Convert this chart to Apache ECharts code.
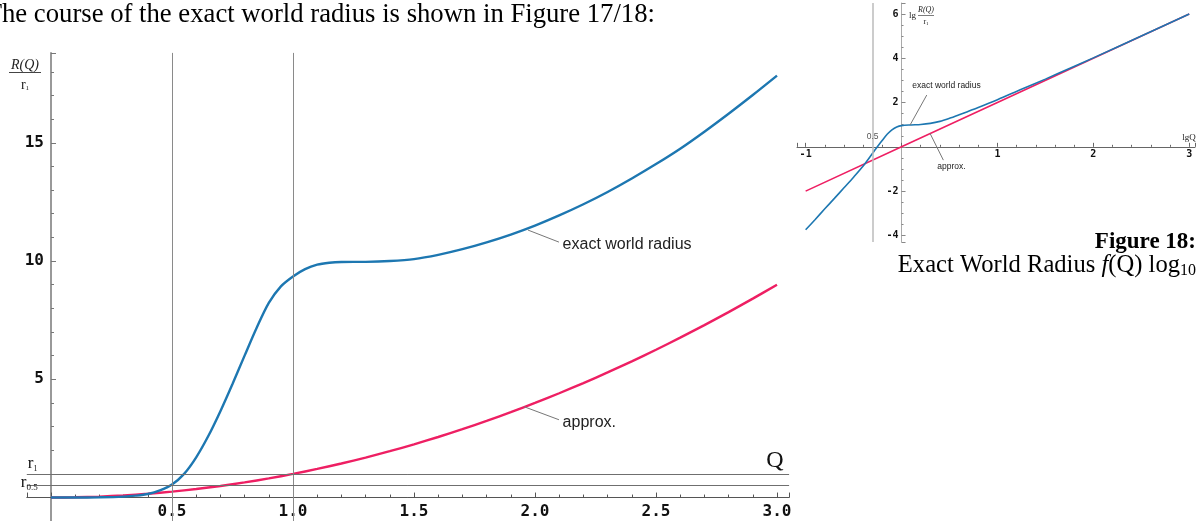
<!DOCTYPE html>
<html><head><meta charset="utf-8">
<script src="https://cdn.jsdelivr.net/npm/echarts@6/dist/echarts.min.js"></script>
<style>html,body{margin:0;padding:0;background:#fff;overflow:hidden}#c{width:1203px;height:521px}</style>
</head><body><div id="c"></div>
<script>
// ---- Figure 17 (linear) ----
const qApprox = [0,0.1,0.2,0.3,0.4,0.5,0.6,0.7,0.8,0.9,1.0,1.1,1.2,1.3,1.4,1.5,1.6,1.7,1.8,1.9,2.0,2.1,2.2,2.3,2.4,2.5,2.6,2.7,2.8,2.9,3.0];
const rApprox = [0,0.01,0.04,0.09,0.16,0.25,0.36,0.49,0.64,0.81,1.0,1.21,1.44,1.69,1.96,2.25,2.56,2.89,3.24,3.61,4.0,4.41,4.84,5.29,5.76,6.25,6.76,7.29,7.84,8.41,9.0];
const qExact = [0,0.1,0.2,0.3,0.35,0.4,0.45,0.5,0.55,0.6,0.65,0.7,0.75,0.8,0.85,0.9,0.95,1.0,1.05,1.1,1.15,1.2,1.3,1.4,1.5,1.6,1.7,1.8,1.9,2.0,2.1,2.2,2.3,2.4,2.5,2.6,2.7,2.8,2.9,3.0];
const rExact = [0,0.0,0.01,0.04,0.08,0.15,0.3,0.55,1.0,1.7,2.6,3.65,4.8,6.0,7.18,8.23,8.93,9.35,9.66,9.85,9.93,9.96,9.965,10.0,10.08,10.26,10.5,10.79,11.12,11.5,11.93,12.4,12.92,13.49,14.1,14.75,15.47,16.23,17.02,17.84];
const refQ = [0.5, 1.0];
const refR = [1, 0.5];
const refRNames = ['1', '0.5'];
const xTickLabels = ['0.5','1.0','1.5','2.0','2.5','3.0'];
const yTickLabels = ['5','10','15'];
// ---- Figure 18 (log10) ----
const lgQExact = [-1.0,-0.9,-0.8,-0.7,-0.6,-0.5,-0.4,-0.3,-0.25,-0.2,-0.15,-0.1,-0.05,0.0,0.1,0.2,0.3,0.4,0.5,0.6,0.8,1.0,1.25,1.5,1.75,2.0,2.5,3.0];
const lgRExact = [-3.75,-3.28,-2.8,-2.33,-1.85,-1.37,-0.87,-0.28,0.02,0.3,0.57,0.77,0.9,0.96,0.99,1.01,1.06,1.15,1.29,1.45,1.78,2.13,2.6,3.06,3.54,4.02,5.01,6.0];
const lgQApprox = [-1,0,1,2,3];
const lgRApprox = [-2,0,2,4,6];
const lgHalf = -0.301;
const logXTickLabels = ['-1','1','2','3'];
const logYTickLabels = ['-4','-2','2','4','6'];

const BLUE = '#1d77b1', PINK = '#ee1f63';
const MONO = 'DejaVu Sans Mono', SERIF = 'Liberation Serif', SANS = 'Liberation Sans';
const zip = (a, b) => a.map((v, i) => [v, b[i]]);
const fmt = (labels, digits) => v => {
  const s = digits ? v.toFixed(digits) : String(Math.round(v * 1000) / 1000);
  return labels.includes(s) ? s : '';
};

const chart = echarts.init(document.getElementById('c'), null, {renderer: 'canvas'});
const leader = {symbol: ['none','none'], silent: true, lineStyle: {color: '#777', width: 1, type: 'solid'}, label: {show: false}};
const textPt = (size, color) => ({symbol: 'circle', symbolSize: 1, silent: true, itemStyle: {color: 'rgba(0,0,0,0)'},
  label: {show: true, position: 'right', distance: 0, fontFamily: SANS, fontSize: size, color: color}});

// grid geometry (pixels) and value ranges
const G0 = {left: 26.8, top: 52.9, width: 762.3, height: 468.3}, X0 = [-0.1, 3.05], Y0 = [-1, 18.8];
const G1 = {left: 797, top: 3, width: 398, height: 239}, X1 = [-1.09, 3.06], Y1 = [-4.3, 6.5];
const offX = (g, y) => -(0 - y[0]) / (y[1] - y[0]) * g.height;   // move x axis up to value 0
const offY = (g, x) => -(0 - x[0]) / (x[1] - x[0]) * g.width;    // move y axis right to value 0

chart.setOption({
  animation: false,
  backgroundColor: '#fff',
  grid: [
    Object.assign({containLabel: false, outerBoundsMode: 'none'}, G0),
    Object.assign({containLabel: false, outerBoundsMode: 'none'}, G1)
  ],
  xAxis: [
    {type: 'value', gridIndex: 0, min: X0[0], max: X0[1], position: 'bottom', offset: offX(G0, Y0),
     axisLine: {onZero: false, lineStyle: {color: '#555', width: 1}},
     axisTick: {inside: true, length: 5, lineStyle: {color: '#555'}},
     minorTick: {show: true, splitNumber: 5, length: 3, lineStyle: {color: '#555'}},
     splitLine: {show: false},
     axisLabel: {formatter: fmt(xTickLabels, 1), fontFamily: MONO, fontWeight: 'bold', fontSize: 16, color: '#111', margin: 6}},
    {type: 'value', gridIndex: 1, min: X1[0], max: X1[1], position: 'bottom', offset: offX(G1, Y1),
     axisLine: {onZero: false, lineStyle: {color: '#666', width: 1}},
     axisTick: {inside: true, length: 4, lineStyle: {color: '#666'}},
     minorTick: {show: true, splitNumber: 5, length: 2, lineStyle: {color: '#666'}},
     splitLine: {show: false},
     axisLabel: {formatter: fmt(logXTickLabels, 0), fontFamily: MONO, fontWeight: 'bold', fontSize: 10, color: '#111', margin: 3}}
  ],
  yAxis: [
    {type: 'value', gridIndex: 0, min: Y0[0], max: Y0[1], splitNumber: 4, position: 'left', offset: offY(G0, X0),
     axisLine: {onZero: false, lineStyle: {color: '#999', width: 2}},
     axisTick: {inside: true, length: 5, lineStyle: {color: '#777'}},
     minorTick: {show: true, splitNumber: 5, length: 3, lineStyle: {color: '#777'}},
     splitLine: {show: false},
     axisLabel: {formatter: fmt(yTickLabels, 0), fontFamily: MONO, fontWeight: 'bold', fontSize: 16, color: '#111', margin: 7}},
    {type: 'value', gridIndex: 1, min: Y1[0], max: Y1[1], splitNumber: 5, position: 'left', offset: offY(G1, X1),
     axisLine: {onZero: false, lineStyle: {color: '#aaa', width: 1}},
     axisTick: {inside: true, length: 4, lineStyle: {color: '#888'}},
     minorTick: {show: true, splitNumber: 4, length: 2, lineStyle: {color: '#888'}},
     splitLine: {show: false},
     axisLabel: {formatter: fmt(logYTickLabels, 0), fontFamily: MONO, fontWeight: 'bold', fontSize: 10, color: '#111', margin: 3}}
  ],
  series: [
    // reference lines (main)
    {type: 'line', xAxisIndex: 0, yAxisIndex: 0, data: [], z: 1, silent: true,
     markLine: {symbol: ['none','none'], silent: true, animation: false,
       data: [
         ...refQ.map(q => ({xAxis: q, lineStyle: {color: '#8a8a8a', width: 1, type: 'solid'}, label: {show: false}})),
         ...refR.map((r, i) => ({yAxis: r, lineStyle: {color: '#6f6f6f', width: 1, type: 'solid'},
           label: {show: true, position: 'insideStartTop', distance: i === 0 ? 1 : -6,
             formatter: '{r|r}{s|' + refRNames[i] + '}',
             rich: {r: {fontFamily: SERIF, fontSize: 17, color: '#111', verticalAlign: 'middle', lineHeight: 18},
                    s: {fontFamily: SERIF, fontSize: i === 0 ? 8 : 9, color: '#111', verticalAlign: 'bottom', lineHeight: 18}}}}))
       ]}},
    {type: 'line', name: 'exact world radius', xAxisIndex: 0, yAxisIndex: 0, data: zip(qExact, rExact),
     smooth: 0.3, showSymbol: false, symbol: 'none', z: 3, lineStyle: {color: BLUE, width: 2.4}, itemStyle: {color: BLUE},
     markLine: Object.assign({data: [[{coord: [1.971, 11.31]}, {coord: [2.099, 10.8]}]]}, leader),
     markPoint: Object.assign({data: [{coord: [2.112, 10.7], label: {formatter: 'exact world radius'}}]}, textPt(16, '#222'))},
    {type: 'line', name: 'approx.', xAxisIndex: 0, yAxisIndex: 0, data: zip(qApprox, rApprox),
     smooth: 0.3, showSymbol: false, symbol: 'none', z: 2, lineStyle: {color: PINK, width: 2.4}, itemStyle: {color: PINK},
     markLine: Object.assign({data: [[{coord: [1.955, 3.84]}, {coord: [2.099, 3.29]}]]}, leader),
     markPoint: Object.assign({data: [{coord: [2.112, 3.18], label: {formatter: 'approx.'}}]}, textPt(16, '#222'))},
    // log figure
    {type: 'line', xAxisIndex: 1, yAxisIndex: 1, data: [], z: 1, silent: true,
     markLine: {symbol: ['none','none'], silent: true,
       data: [{xAxis: lgHalf, lineStyle: {color: '#bbb', width: 1.5, type: 'solid'}, label: {show: false}}]},
     markPoint: {symbol: 'circle', symbolSize: 1, silent: true, itemStyle: {color: 'rgba(0,0,0,0)'},
       label: {show: true, position: 'inside', fontFamily: SANS, fontSize: 8.5, color: '#555', formatter: '0.5'},
       data: [{coord: [lgHalf, 0.44]}]}},
    {type: 'line', xAxisIndex: 1, yAxisIndex: 1, data: zip(lgQExact, lgRExact),
     smooth: 0.3, showSymbol: false, symbol: 'none', z: 3, lineStyle: {color: BLUE, width: 1.6},
     markLine: Object.assign({data: [[{coord: [0.089, 0.985]}, {coord: [0.263, 2.34]}]]}, leader),
     markPoint: Object.assign({data: [{coord: [0.106, 2.75], label: {formatter: 'exact world radius'}}]}, textPt(8.5, '#222'))},
    {type: 'line', xAxisIndex: 1, yAxisIndex: 1, data: zip(lgQApprox, lgRApprox),
     smooth: false, showSymbol: false, symbol: 'none', z: 2, lineStyle: {color: PINK, width: 1.6},
     markLine: Object.assign({data: [[{coord: [0.297, 0.61]}, {coord: [0.436, -0.6]}]]}, leader),
     markPoint: Object.assign({data: [{coord: [0.367, -0.9], label: {formatter: 'approx.'}}]}, textPt(8.5, '#222'))}
  ],
  graphic: [
    {type: 'text', left: -14.3, top: 1, silent: true,
     style: {text: 'The course of the exact world radius is shown in Figure 17/18:', font: '26.7px "Liberation Serif"', fill: '#000'}},
    // main y title
    {type: 'text', x: 25, y: 65, silent: true,
     style: {text: 'R(Q)', font: 'italic 14px "Liberation Serif"', fill: '#222', align: 'center', verticalAlign: 'middle'}},
    {type: 'line', silent: true, shape: {x1: 9, y1: 72.5, x2: 41, y2: 72.5}, style: {stroke: '#444', lineWidth: 1}},
    {type: 'text', x: 25, y: 85, silent: true,
     style: {text: '{r|r}{s|1}', align: 'center', verticalAlign: 'middle',
       rich: {r: {font: '14px "Liberation Serif"', fill: '#222', verticalAlign: 'middle', lineHeight: 14},
              s: {font: '7px "Liberation Serif"', fill: '#222', verticalAlign: 'bottom', lineHeight: 14}}}},
    {type: 'text', x: 775, y: 461, silent: true,
     style: {text: 'Q', font: '24px "Liberation Serif"', fill: '#111', align: 'center', verticalAlign: 'middle'}},
    // log y title
    {type: 'text', x: 909, y: 15.5, silent: true,
     style: {text: 'lg', font: '9px "Liberation Serif"', fill: '#222', align: 'left', verticalAlign: 'middle'}},
    {type: 'text', x: 926, y: 10, silent: true,
     style: {text: 'R(Q)', font: 'italic 8px "Liberation Serif"', fill: '#222', align: 'center', verticalAlign: 'middle'}},
    {type: 'line', silent: true, shape: {x1: 918, y1: 15.5, x2: 934, y2: 15.5}, style: {stroke: '#444', lineWidth: 0.7}},
    {type: 'text', x: 926, y: 22, silent: true,
     style: {text: '{r|r}{s|1}', align: 'center', verticalAlign: 'middle',
       rich: {r: {font: '8px "Liberation Serif"', fill: '#222', verticalAlign: 'middle', lineHeight: 8},
              s: {font: '5px "Liberation Serif"', fill: '#222', verticalAlign: 'bottom', lineHeight: 8}}}},
    {type: 'text', x: 1189, y: 138, silent: true,
     style: {text: 'lgQ', font: '9px "Liberation Serif"', fill: '#222', align: 'center', verticalAlign: 'middle'}},
    // captions
    {type: 'text', x: 1196, y: 242, silent: true,
     style: {text: 'Figure 18:', font: 'bold 23px "Liberation Serif"', fill: '#000', align: 'right', verticalAlign: 'middle'}},
    {type: 'text', x: 1196, y: 266, silent: true,
     style: {text: '{a|Exact World Radius }{i|f}{a|(Q) log}{s|10}', align: 'right', verticalAlign: 'middle',
       rich: {a: {font: '24.6px "Liberation Serif"', fill: '#000', verticalAlign: 'middle', lineHeight: 26},
              i: {font: 'italic 24.6px "Liberation Serif"', fill: '#000', verticalAlign: 'middle', lineHeight: 26},
              s: {font: '16px "Liberation Serif"', fill: '#000', verticalAlign: 'bottom', lineHeight: 26}}}}
  ]
});
</script></body></html>
